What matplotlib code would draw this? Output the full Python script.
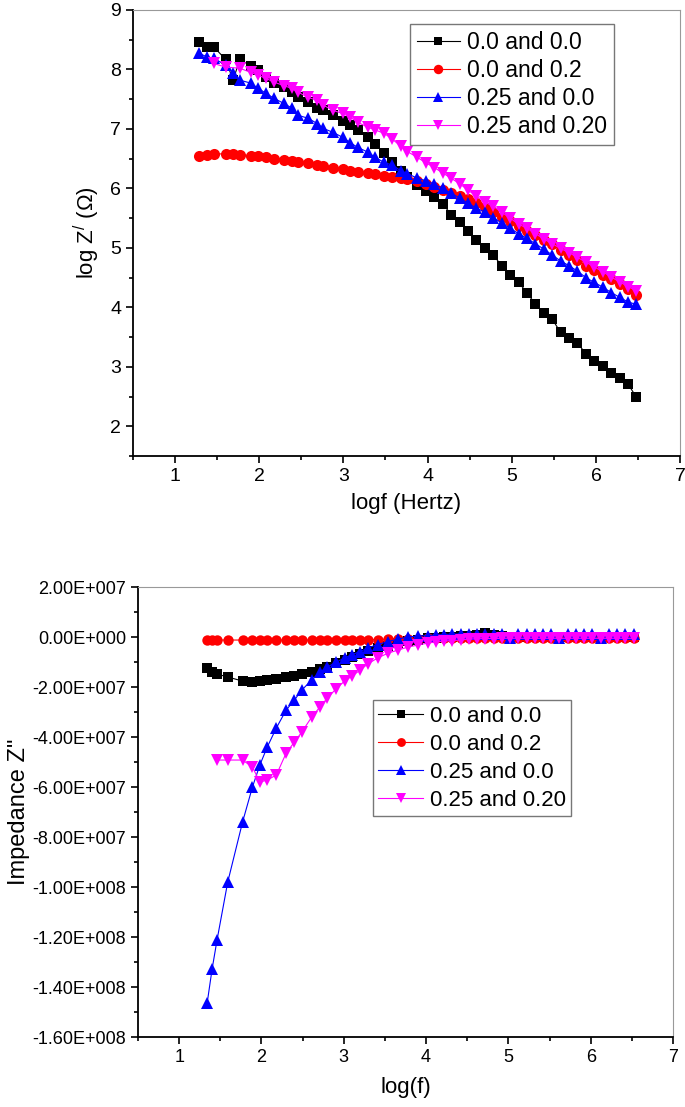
import numpy as np
import matplotlib
matplotlib.use("Agg")
import matplotlib.pyplot as plt
from matplotlib.ticker import MultipleLocator, FuncFormatter

plt.rcParams['font.family'] = ['Liberation Sans', 'DejaVu Sans']
plt.rcParams['mathtext.fontset'] = 'custom'
plt.rcParams['mathtext.rm'] = 'Liberation Sans'
plt.rcParams['mathtext.it'] = 'Liberation Sans:italic'

labels = ['0.0 and 0.0', '0.0 and 0.2', '0.25 and 0.0', '0.25 and 0.20']

# ---- top panel: log Z' vs log f ----
x_top = [1.29, 1.38, 1.46, 1.60, 1.69, 1.77, 1.90, 1.99, 2.08, 2.17, 2.29, 2.39, 2.46, 2.58,
         2.69, 2.76, 2.88, 2.99, 3.08, 3.17, 3.29, 3.38, 3.48, 3.58, 3.68, 3.76, 3.88,
         3.98, 4.08, 4.18, 4.28, 4.38, 4.48, 4.58, 4.68, 4.78, 4.88, 4.98, 5.08, 5.18,
         5.28, 5.38, 5.48, 5.58, 5.68, 5.78, 5.88, 5.98, 6.08, 6.18, 6.28, 6.38, 6.48]
x_top_m = [1.46, 1.60, 1.77, 1.90, 1.99, 2.08, 2.17, 2.29, 2.39, 2.46, 2.58,
           2.69, 2.76, 2.88, 2.99, 3.08, 3.17, 3.29, 3.38, 3.48, 3.58, 3.68, 3.76, 3.88,
           3.98, 4.08, 4.18, 4.28, 4.38, 4.48, 4.58, 4.68, 4.78, 4.88, 4.98, 5.08, 5.18,
           5.28, 5.38, 5.48, 5.58, 5.68, 5.78, 5.88, 5.98, 6.08, 6.18, 6.28, 6.38, 6.48]

logz_00_00 = [8.46, 8.38, 8.38, 8.17, 7.82, 8.17, 8.06, 7.99, 7.87, 7.77, 7.70, 7.62, 7.53, 7.45,
              7.36, 7.31, 7.23, 7.14, 7.06, 6.98, 6.86, 6.74, 6.60, 6.45, 6.30, 6.20, 6.05,
              5.96, 5.85, 5.74, 5.56, 5.43, 5.28, 5.14, 5.00, 4.88, 4.70, 4.55, 4.42, 4.25,
              4.05, 3.90, 3.80, 3.58, 3.49, 3.40, 3.22, 3.10, 3.01, 2.90, 2.81, 2.71, 2.49]
logz_00_02 = [6.55, 6.57, 6.58, 6.58, 6.58, 6.57, 6.55, 6.54, 6.52, 6.50, 6.48, 6.46, 6.44, 6.42,
              6.40, 6.38, 6.35, 6.33, 6.30, 6.28, 6.26, 6.24, 6.21, 6.19, 6.17, 6.15, 6.12,
              6.08, 6.03, 5.97, 5.92, 5.88, 5.82, 5.75, 5.68, 5.60, 5.52, 5.45, 5.37, 5.29,
              5.22, 5.14, 5.06, 4.97, 4.88, 4.79, 4.70, 4.62, 4.55, 4.48, 4.40, 4.31, 4.21]
logz_25_00 = [8.27, 8.21, 8.19, 8.07, 7.94, 7.82, 7.77, 7.68, 7.60, 7.52, 7.43, 7.35, 7.23, 7.18,
              7.09, 7.01, 6.94, 6.86, 6.77, 6.69, 6.61, 6.52, 6.44, 6.39, 6.30, 6.25, 6.17,
              6.13, 6.07, 6.00, 5.92, 5.84, 5.75, 5.67, 5.60, 5.51, 5.42, 5.33, 5.24, 5.16,
              5.07, 4.98, 4.88, 4.78, 4.70, 4.61, 4.50, 4.42, 4.34, 4.25, 4.17, 4.09, 4.05]
logz_25_20 = [8.10, 8.04, 8.02, 7.95, 7.90, 7.85, 7.79, 7.73, 7.68, 7.62, 7.53,
              7.48, 7.40, 7.31, 7.26, 7.20, 7.11, 7.03, 6.98, 6.93, 6.83, 6.71, 6.62, 6.52,
              6.43, 6.35, 6.26, 6.17, 6.08, 5.97, 5.87, 5.77, 5.70, 5.60, 5.50, 5.40, 5.33,
              5.24, 5.15, 5.07, 4.99, 4.92, 4.84, 4.76, 4.68, 4.60, 4.51, 4.43, 4.35, 4.28]

# ---- bottom panel: Z'' vs log f (values in units of 1e7 ohm) ----
x_bot = [1.34, 1.40, 1.46, 1.59, 1.77, 1.89, 1.98, 2.07, 2.18, 2.30, 2.40, 2.49, 2.61,
         2.71, 2.80, 2.91, 3.01, 3.10, 3.20, 3.29, 3.41, 3.54, 3.66, 3.78, 3.90, 4.02,
         4.12, 4.22, 4.32, 4.42, 4.52, 4.62, 4.72, 4.82, 4.92, 5.02, 5.12, 5.22, 5.32,
         5.42, 5.52, 5.62, 5.72, 5.82, 5.92, 6.02, 6.12, 6.22, 6.32, 6.42, 6.52]
x_bot_m = x_bot[2:]

zi_00_00 = [-1.24, -1.40, -1.48, -1.60, -1.76, -1.78, -1.76, -1.72, -1.66, -1.60, -1.56, -1.48, -1.40,
            -1.28, -1.20, -1.04, -0.92, -0.80, -0.68, -0.56, -0.44, -0.34, -0.25, -0.17, -0.10, -0.05,
            -0.02, 0.00, 0.02, 0.03, 0.05, 0.10, 0.18, 0.08, 0.03, 0.02, 0.01, 0.00, 0.01,
            0.00, 0.01, 0.00, 0.00, 0.01, 0.00, 0.00, 0.01, 0.00, 0.00, 0.01, 0.00]
zi_00_02 = [-0.12, -0.12, -0.12, -0.12, -0.12, -0.12, -0.12, -0.12, -0.12, -0.12, -0.12, -0.12, -0.12,
            -0.12, -0.12, -0.12, -0.12, -0.11, -0.11, -0.10, -0.10, -0.09, -0.08, -0.07, -0.06, -0.05,
            -0.04, -0.04, -0.03, -0.03, -0.03, -0.02, -0.02, -0.02, -0.02, -0.02, -0.02, -0.02, -0.02,
            -0.02, -0.02, -0.02, -0.02, -0.02, -0.02, -0.02, -0.02, -0.02, -0.02, -0.02, -0.02]
zi_25_00 = [-14.64, -13.28, -12.12, -9.80, -7.40, -6.00, -5.12, -4.40, -3.64, -2.92, -2.52, -2.12, -1.72,
            -1.40, -1.20, -1.00, -0.84, -0.70, -0.58, -0.44, -0.30, -0.18, -0.08, 0.00, 0.04, 0.06,
            0.08, 0.10, 0.12, 0.12, 0.14, 0.12, 0.14, 0.12, 0.14, -0.04, 0.14, 0.12, 0.14,
            0.12, 0.14, -0.04, 0.14, 0.12, 0.14, 0.12, -0.04, 0.14, 0.12, 0.14, 0.12]
zi_25_20 = [-4.92, -4.92, -4.92, -5.20, -5.80, -5.72, -5.52, -4.64, -4.20, -3.80, -3.20,
            -2.80, -2.44, -2.06, -1.76, -1.56, -1.32, -1.08, -0.84, -0.64, -0.52, -0.40, -0.32, -0.24,
            -0.20, -0.16, -0.14, -0.12, -0.08, -0.07, -0.06, -0.06, -0.05, -0.05, -0.05, -0.05, -0.05,
            -0.05, -0.05, -0.05, -0.05, -0.05, -0.05, -0.05, -0.05, -0.05, -0.05, -0.05, -0.05]

colors = ['black', 'red', 'blue', 'magenta']
markers = ['s', 'o', '^', 'v']
msize_top = [7, 8, 9, 9]
msize_bot = [6.5, 7.5, 8.5, 8.5]


def style_axes(ax, tick_size):
    for side in ['left', 'bottom']:
        ax.spines[side].set_linewidth(1.3)
        ax.spines[side].set_color('black')
    for side in ['top', 'right']:
        ax.spines[side].set_linewidth(0.8)
        ax.spines[side].set_color('#999999')
    ax.tick_params(which='both', direction='out', top=False, right=False,
                   width=1.2, labelsize=tick_size)
    ax.tick_params(which='major', length=5)
    ax.tick_params(which='minor', length=3)
    ax.xaxis.set_major_locator(MultipleLocator(1))
    ax.xaxis.set_minor_locator(MultipleLocator(0.5))
    ax.set_xlim(0.5, 7)


def sci_fmt(v, pos):
    if abs(v) < 1:
        return '0.00E+000'
    e = int(np.floor(np.log10(abs(v))))
    m = v / 10 ** e
    sign = '+' if e >= 0 else '-'
    return f'{m:.2f}E{sign}{abs(e):03d}'


fig = plt.figure(figsize=(6.85, 11.07), dpi=100)

ax1 = fig.add_axes([0.194, 0.588, 0.799, 0.403])
top_x = [x_top, x_top, x_top, x_top_m]
top_y = [logz_00_00, logz_00_02, logz_25_00, logz_25_20]
for xs, ys, c, m, ms, lab in zip(top_x, top_y, colors, markers, msize_top, labels):
    ax1.plot(xs, ys, color=c, marker=m, markersize=ms, linewidth=0.8,
             markeredgewidth=0, label=lab)
style_axes(ax1, 14)
ax1.set_ylim(1.5, 9)
ax1.yaxis.set_major_locator(MultipleLocator(1))
ax1.yaxis.set_minor_locator(MultipleLocator(0.5))
ax1.set_xlabel('logf (Hertz)', fontsize=16, labelpad=6)
ax1.set_ylabel('log Z$^{/}$ (Ω)', fontsize=16, labelpad=6)
leg1 = ax1.legend(loc='upper right', bbox_to_anchor=(0.879, 0.969), borderaxespad=0,
                  fontsize=16.5, frameon=True, fancybox=False, edgecolor='#555555',
                  handlelength=1.9, handletextpad=0.3, labelspacing=0.22, borderpad=0.3,
                  markerscale=0.85)
leg1.get_frame().set_linewidth(1.0)

ax2 = fig.add_axes([0.2015, 0.0632, 0.781, 0.4065])
bot_x = [x_bot, x_bot, x_bot, x_bot_m]
bot_y = [zi_00_00, zi_00_02, zi_25_00, zi_25_20]
for xs, ys, c, m, ms, lab in zip(bot_x, bot_y, colors, markers, msize_bot, labels):
    ax2.plot(xs, np.array(ys) * 1e7, color=c, marker=m, markersize=ms, linewidth=0.8,
             markeredgewidth=0, label=lab)
style_axes(ax2, 13)
ax2.set_ylim(-1.6e8, 2e7)
ax2.yaxis.set_major_locator(MultipleLocator(2e7))
ax2.yaxis.set_minor_locator(MultipleLocator(1e7))
ax2.yaxis.set_major_formatter(FuncFormatter(sci_fmt))
ax2.set_xlabel('log(f)', fontsize=16, labelpad=8)
ax2.set_ylabel('Impedance Z"', fontsize=17, labelpad=2)
leg2 = ax2.legend(loc='upper left', bbox_to_anchor=(0.439, 0.749), borderaxespad=0,
                  fontsize=16, frameon=True, fancybox=False, edgecolor='#555555',
                  handlelength=2.0, handletextpad=0.3, labelspacing=0.32, borderpad=0.25,
                  markerscale=0.85)
leg2.get_frame().set_linewidth(1.0)

fig.savefig('out.png', dpi=100)
